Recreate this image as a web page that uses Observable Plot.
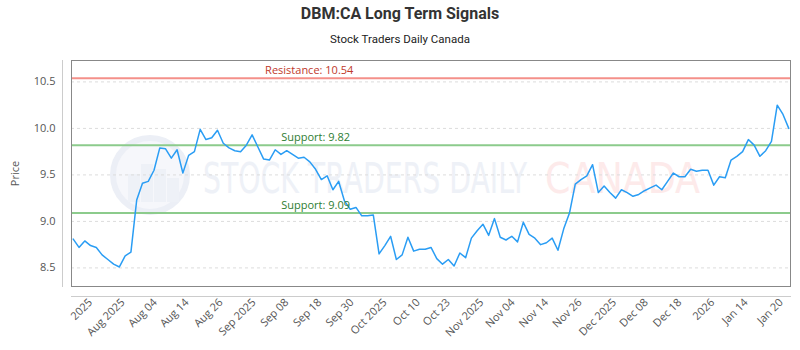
<!DOCTYPE html>
<html>
<head>
<meta charset="utf-8">
<script src="https://cdn.jsdelivr.net/npm/d3@7"></script>
<script src="https://cdn.jsdelivr.net/npm/@observablehq/plot@0.6"></script>
<style>
  body { margin: 0; background: #fff; }
  #wrap { position: relative; width: 800px; height: 350px; overflow: hidden; background: #fff; }
  #title { position: absolute; left: 0; top: 4px; width: 800px; text-align: center;
           font-family: Roboto, "Open Sans", sans-serif; font-weight: bold; font-size: 16px; color: #333; }
  #subtitle { position: absolute; left: 0; top: 32px; width: 800px; text-align: center;
              font-family: Roboto, "Open Sans", sans-serif; font-size: 11.5px; color: #222; }
  #chart { position: absolute; left: 0; top: 50px; }
</style>
</head>
<body>
<div id="wrap">
  <div id="title">DBM:CA Long Term Signals</div>
  <div id="subtitle">Stock Traders Daily Canada</div>
  <div id="chart"></div>
</div>
<script>
// ---- data ----
const prices = [
  8.81, 8.72, 8.79, 8.74, 8.72, 8.64, 8.59, 8.54, 8.51, 8.63,
  8.67, 9.23, 9.41, 9.43, 9.55, 9.79, 9.78, 9.68, 9.77, 9.52,
  9.71, 9.75, 9.99, 9.88, 9.90, 9.98, 9.84, 9.79, 9.76, 9.75,
  9.82, 9.93, 9.80, 9.67, 9.66, 9.77, 9.72, 9.76, 9.72, 9.68,
  9.69, 9.64, 9.56, 9.45, 9.49, 9.34, 9.43, 9.22, 9.13, 9.15,
  9.06, 9.06, 9.07, 8.65, 8.74, 8.84, 8.59, 8.64, 8.83, 8.68,
  8.70, 8.70, 8.72, 8.60, 8.54, 8.59, 8.52, 8.66, 8.61, 8.82,
  8.90, 8.97, 8.85, 9.03, 8.83, 8.80, 8.84, 8.78, 8.99, 8.86,
  8.82, 8.75, 8.77, 8.82, 8.69, 8.92, 9.09, 9.40, 9.45, 9.49,
  9.61, 9.31, 9.38, 9.31, 9.25, 9.34, 9.31, 9.27, 9.29, 9.33,
  9.36, 9.39, 9.34, 9.43, 9.52, 9.48, 9.48, 9.56, 9.54, 9.55,
  9.55, 9.39, 9.48, 9.47, 9.66, 9.70, 9.75, 9.88, 9.82, 9.70,
  9.76, 9.86, 10.25, 10.15, 10.00
];
const tickLabels = ["2025", "Aug 2025", "Aug 04", "Aug 14", "Aug 26", "Sep 2025", "Sep 08", "Sep 18",
  "Sep 30", "Oct 2025", "Oct 10", "Oct 23", "Nov 2025", "Nov 04", "Nov 14", "Nov 26",
  "Dec 2025", "Dec 08", "Dec 18", "2026", "Jan 14", "Jan 20"];
const tickIndex = [3.0, 8.6, 14.2, 19.7, 25.6, 31.3, 37.0, 42.7, 48.3, 54.0, 59.8,
  65.0, 70.8, 76.2, 82.0, 87.8, 93.8, 99.3, 105.1, 110.8, 116.6, 122.7];
const yTicks = [8.5, 9.0, 9.5, 10.0, 10.5];
const levelNames = ["Resistance", "Support", "Support"];
const levelValues = [10.54, 9.82, 9.09];
const levelLabelAt = [40.9, 42.0, 42.0];

// ---- build ----
const series = prices.map((v, i) => ({i, v}));
const levels = levelValues.map((v, k) => ({
  v, name: levelNames[k], at: levelLabelAt[k],
  text: `${levelNames[k]}: ${v.toFixed(2)}`,
  kind: levelNames[k] === "Resistance" ? "r" : "s"
}));
const labelByTick = new Map(tickIndex.map((t, k) => [t, tickLabels[k]]));

const plot = Plot.plot({
  width: 800,
  height: 300,
  marginTop: 10,
  marginBottom: 64,
  marginLeft: 71,
  marginRight: 10,
  style: {fontFamily: "'Open Sans', sans-serif", background: "transparent"},
  x: {domain: [-0.3, prices.length - 1 + 0.3], axis: null},
  y: {domain: [8.30, 10.73], axis: null},
  marks: [
    Plot.gridY(yTicks, {stroke: "#dcdcdc", strokeOpacity: 1, strokeDasharray: "3,3"}),
    Plot.ruleY(levels.filter(d => d.kind === "r"), {y: "v", stroke: "#f4908a", strokeWidth: 2}),
    Plot.ruleY(levels.filter(d => d.kind === "s"), {y: "v", stroke: "#8ccb8c", strokeWidth: 2}),
    Plot.lineY(series, {x: "i", y: "v", stroke: "#2a9df4", strokeWidth: 1.5}),
    Plot.text(levels, {x: "at", y: "v", text: "text", dy: -8, fontSize: 11,
      fill: d => d.kind === "r" ? "#c0392b" : "#2e7d32"}),
    Plot.frame({stroke: "#888"}),
    Plot.frame({anchor: "left", dx: -9, stroke: "#ccc"}),
    Plot.frame({anchor: "bottom", dy: 10, stroke: "#ccc"}),
    Plot.axisY(yTicks, {tickSize: 0, tickPadding: 16, tickFormat: d3.format(".1f"),
      fontSize: 11, color: "#555", label: "Price", labelAnchor: "center", labelArrow: "none",
      labelOffset: 60}),
    Plot.axisX(tickIndex, {tickSize: 0, tickRotate: -45, tickPadding: 14,
      tickFormat: d => labelByTick.get(d), fontSize: 11, color: "#555", label: null})
  ]
});

// faint watermark behind the chart
const svg = d3.select(plot);
const wm = svg.insert("g", ":first-child").attr("pointer-events", "none");
wm.append("circle").attr("cx", 150).attr("cy", 125).attr("r", 37)
  .attr("fill", "#f6f7fb").attr("stroke", "#eceff6").attr("stroke-width", 6);
[[128, 12, 28], [141, 12, 38], [154, 12, 33], [167, 12, 24]].forEach(([x, w, h]) => {
  wm.append("rect").attr("x", x).attr("y", 152 - h).attr("width", w).attr("height", h).attr("fill", "#eef1f7");
});
wm.append("text").attr("x", 203).attr("y", 143).attr("font-size", 43)
  .attr("text-anchor", "start")
  .attr("font-family", "'DejaVu Sans Condensed', Roboto, sans-serif")
  .attr("textLength", 324).attr("lengthAdjust", "spacingAndGlyphs")
  .attr("fill", "#eef1f7").text("STOCK TRADERS DAILY");
wm.append("text").attr("x", 545).attr("y", 143).attr("font-size", 43)
  .attr("text-anchor", "start")
  .attr("font-family", "'DejaVu Sans Condensed', Roboto, sans-serif")
  .attr("textLength", 155).attr("lengthAdjust", "spacingAndGlyphs")
  .attr("fill", "#fdeaea").text("CANADA");

document.getElementById("chart").appendChild(plot);
</script>
</body>
</html>
